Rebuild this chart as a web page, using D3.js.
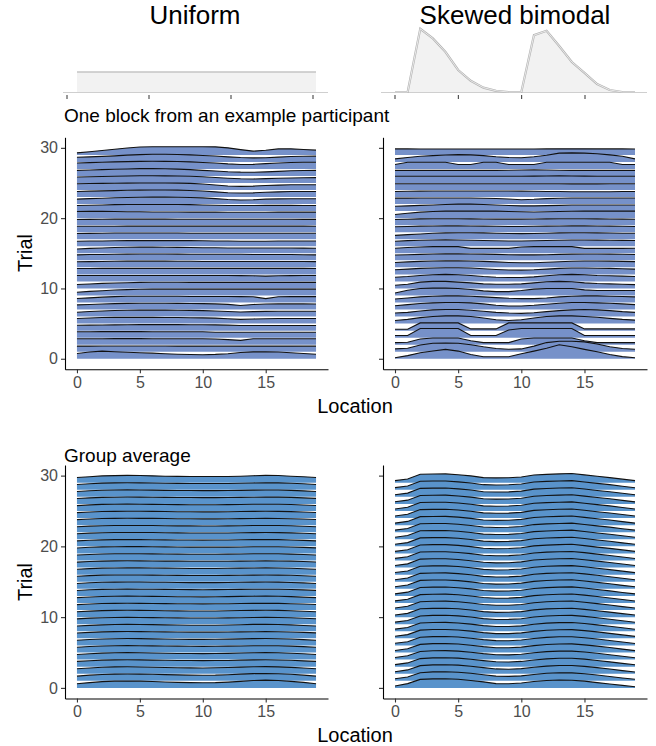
<!DOCTYPE html>
<meta charset="utf-8">
<style>
body,html{margin:0;padding:0;background:#fff;}
svg{display:block;font-family:"Liberation Sans",Arial,sans-serif;}
</style>
<svg width="656" height="746"></svg>
<script src="https://d3js.org/d3.v7.min.js"></script>
<script>

// ---- data ----
var locations = [0,1,2,3,4,5,6,7,8,9,10,11,12,13,14,15,16,17,18,19];
var xTicks = [0,5,10,15];
var yTicks = [0,10,20,30];

// generative distributions (probability per location)
var uniformDist = [0.05,0.05,0.05,0.05,0.05,0.05,0.05,0.05,0.05,0.05,0.05,0.05,0.05,0.05,0.05,0.05,0.05,0.05,0.05,0.05];
var skewedDist = [0,0,0.158,0.134,0.1,0.055,0.028,0.011,0.003,0,0,0.142,0.153,0.115,0.075,0.048,0.02,0.005,0,0];

// ridge heights (x100), one row per trial, trial 0 first
var uniformParticipant = [
  [75,95,108,100,92,86,80,72,65,60,57,62,72,88,98,100,96,86,75,65],
  [80,80,81,82,82,82,82,81,80,80,80,79,79,80,80,80,80,80,79,79],
  [84,84,85,86,86,86,85,85,84,84,84,80,72,62,84,84,84,84,84,84],
  [84,85,86,86,86,86,85,85,84,84,84,78,76,76,76,77,77,77,77,77],
  [76,78,80,82,84,85,86,86,85,84,84,82,78,72,72,74,74,74,74,74],
  [72,80,86,88,88,88,88,87,86,84,82,78,70,60,66,70,72,72,72,72],
  [62,72,80,86,90,92,92,92,90,88,85,80,72,64,70,74,76,76,76,76],
  [66,72,78,84,88,90,90,90,88,86,84,80,74,58,72,78,80,80,80,78],
  [57,66,76,84,88,90,90,90,88,86,86,86,86,84,82,55,82,84,84,84],
  [47,58,68,78,84,88,90,90,90,90,90,90,90,90,90,90,90,90,90,90],
  [57,64,72,78,82,86,88,88,88,86,86,86,86,86,86,86,86,86,86,86],
  [85,85,84,84,84,84,84,84,84,84,84,84,84,82,80,76,80,82,84,84],
  [84,84,85,86,86,86,86,86,86,86,86,86,86,86,86,86,86,86,86,84],
  [80,82,84,86,88,88,88,88,86,86,84,84,84,84,84,84,84,84,84,82],
  [78,82,84,86,88,90,90,89,88,86,86,86,86,86,84,84,84,82,80,78],
  [62,70,76,82,86,88,88,86,84,82,80,78,76,76,76,76,76,76,74,72],
  [71,74,76,78,80,80,80,80,80,80,78,76,74,72,72,72,74,74,74,74],
  [82,84,86,88,88,88,88,88,88,86,86,86,86,86,86,86,86,86,86,86],
  [85,85,85,85,86,86,86,86,86,86,86,86,86,86,86,86,86,86,86,85],
  [80,82,84,86,86,86,86,86,84,84,84,84,84,84,84,84,84,84,82,82],
  [95,96,96,94,92,90,88,88,88,86,86,86,84,84,84,84,86,86,86,86],
  [80,84,88,92,94,95,95,95,94,92,88,84,80,80,80,82,82,82,80,80],
  [71,78,84,90,94,97,99,99,98,94,88,78,66,58,62,70,74,76,76,76],
  [80,84,88,92,96,98,100,100,98,94,86,74,62,57,60,68,74,78,80,80],
  [90,92,94,96,98,100,100,100,98,94,86,72,58,52,56,64,70,74,76,76],
  [85,88,92,96,100,104,104,102,100,96,88,78,68,60,57,62,68,72,74,76],
  [80,85,90,96,100,104,104,102,98,90,80,70,60,54,52,58,66,74,78,80],
  [85,90,96,100,104,108,109,108,106,100,92,85,72,63,65,75,85,92,95,95],
  [66,72,78,86,96,104,109,109,106,100,92,84,72,62,57,60,68,76,80,82],
  [29,45,62,80,98,112,116,116,115,115,115,114,100,75,53,65,85,86,76,67]
];

var skewedParticipant = [
  [14,45,85,110,133,109,60,28,28,28,70,109,150,200,170,133,100,60,30,14],
  [40,50,95,120,125,120,100,70,45,35,40,80,130,150,150,140,110,70,45,35],
  [30,35,80,95,95,95,55,30,30,30,80,95,95,95,95,55,30,30,30,30],
  [30,30,130,130,130,130,30,30,30,110,130,130,130,130,130,30,30,30,30,30],
  [20,20,110,110,110,110,25,25,25,110,110,110,110,110,110,25,25,25,25,25],
  [45,60,85,100,110,110,100,80,55,45,55,80,100,110,110,100,90,75,60,50],
  [50,60,80,95,100,100,90,75,60,50,45,55,70,85,95,100,95,85,70,60],
  [55,70,85,95,100,100,95,80,60,50,50,60,75,90,100,100,95,90,80,70],
  [50,65,80,90,95,95,90,80,70,60,55,55,65,80,90,95,95,90,85,80],
  [35,75,100,105,105,100,85,65,55,55,70,90,100,100,100,80,70,70,70,70],
  [45,60,90,100,100,90,80,65,60,60,65,80,95,100,95,80,70,65,60,55],
  [60,70,85,95,100,95,85,70,60,55,55,65,80,95,100,95,85,80,75,70],
  [65,75,85,90,95,95,90,80,70,62,60,65,75,85,90,90,88,85,80,75],
  [70,78,85,90,92,92,90,85,78,70,65,65,72,80,86,90,90,88,85,82],
  [75,80,85,90,92,92,90,88,85,80,78,78,80,85,88,90,90,88,86,84],
  [72,82,90,95,95,95,70,70,70,70,90,95,95,95,95,70,70,70,70,72],
  [72,80,86,90,92,90,86,82,78,75,75,78,82,86,90,90,88,86,84,82],
  [55,65,75,85,90,92,92,90,86,82,80,82,86,90,92,92,90,88,86,85],
  [78,82,86,88,90,90,88,86,84,82,82,84,86,88,90,90,88,86,84,82],
  [80,85,90,92,92,92,90,88,86,86,86,88,90,92,92,92,90,88,86,85],
  [52,70,85,95,100,100,100,100,100,95,90,88,90,95,98,100,100,100,100,100],
  [70,75,82,88,95,100,100,95,88,80,75,75,78,82,86,88,88,88,86,86],
  [85,85,86,86,86,86,86,84,80,72,62,68,78,84,86,86,86,86,86,86],
  [80,82,84,86,86,86,86,86,86,86,84,82,80,78,76,76,76,76,78,80],
  [90,90,90,90,90,90,90,90,90,90,90,90,90,90,88,88,88,90,90,90],
  [95,95,95,95,95,95,95,95,95,95,95,98,100,102,100,98,96,95,95,95],
  [80,80,80,80,80,80,80,80,80,82,84,86,84,82,80,80,80,80,80,80],
  [63,96,96,96,96,63,63,96,96,63,63,63,96,96,96,96,96,96,63,63],
  [43,62,80,90,98,104,100,90,74,62,60,74,95,125,128,125,115,100,80,43],
  [85,85,84,84,84,84,83,83,83,83,84,84,85,86,86,86,85,85,85,84]
];

var uniformGroup = [
  [59,75,88,95,97,95,90,84,78,75,73,75,82,92,104,110,104,92,78,59],
  [66,80,90,95,96,95,92,88,84,80,78,80,86,94,102,104,100,92,80,66],
  [70,82,92,97,98,96,92,88,85,83,82,84,88,94,99,100,97,90,80,70],
  [74,84,92,96,97,96,93,90,88,86,85,86,88,92,96,97,95,90,82,74],
  [72,83,91,96,98,97,94,90,87,85,84,85,88,92,96,98,96,90,82,72],
  [75,85,92,96,97,96,94,92,90,88,87,88,90,92,95,96,95,90,83,75],
  [73,84,91,95,97,96,93,90,88,86,86,87,89,93,96,97,95,90,82,74],
  [76,85,92,95,96,95,93,91,89,88,88,88,90,92,94,95,94,90,84,77],
  [74,84,91,95,97,96,94,91,88,86,85,86,89,93,97,98,96,90,82,74],
  [76,86,92,95,96,95,93,91,89,88,87,88,90,92,95,96,95,91,84,77],
  [75,85,92,96,97,96,94,91,88,86,86,87,90,93,96,97,95,90,83,75],
  [77,86,92,95,96,95,93,91,90,89,88,89,90,92,94,95,94,90,85,78],
  [75,85,92,96,97,96,94,91,89,87,86,87,90,93,96,97,95,90,83,75],
  [77,86,92,95,96,95,94,92,90,89,88,89,90,92,94,95,94,91,85,78],
  [76,85,92,95,97,96,94,92,89,87,87,88,90,93,95,96,95,90,84,76],
  [78,87,93,95,96,95,94,92,90,89,89,89,90,92,94,95,94,91,85,78],
  [76,86,92,95,96,96,94,92,90,88,87,88,90,93,95,96,95,91,84,77],
  [78,87,92,95,96,95,94,92,91,90,89,89,90,92,94,95,94,91,86,79],
  [77,86,92,95,96,95,94,92,90,89,88,88,90,92,95,96,95,91,85,78],
  [78,87,93,95,96,96,94,93,91,90,89,89,90,92,94,95,94,91,86,79],
  [77,86,92,95,96,95,94,92,90,89,88,89,90,93,95,96,95,91,85,78],
  [78,87,92,95,96,96,95,93,91,90,89,89,90,92,94,95,94,91,86,79],
  [77,86,92,95,96,96,94,92,90,89,88,88,90,92,95,96,95,91,85,78],
  [78,87,93,96,97,96,95,93,91,90,89,89,90,92,94,95,94,91,86,79],
  [77,86,92,95,96,96,95,92,90,89,88,88,90,92,94,96,95,91,85,78],
  [76,86,93,96,97,96,94,92,90,88,88,88,90,92,95,96,96,92,85,77],
  [77,86,92,95,97,96,95,93,91,90,89,89,90,92,94,96,96,92,86,78],
  [76,86,93,97,98,97,95,92,90,89,88,88,89,92,95,97,97,92,85,76],
  [75,86,94,98,99,98,96,93,90,89,88,88,89,92,96,99,98,92,84,75],
  [74,85,96,100,103,101,97,92,89,88,87,87,88,92,98,104,101,92,83,74]
];

var skewedGroup = [
  [26,60,120,128,130,122,105,85,60,58,68,90,105,111,108,95,75,55,35,17],
  [28,55,115,126,128,122,106,86,66,62,70,90,106,113,112,100,82,62,40,22],
  [29,54,114,125,127,121,105,86,68,64,72,92,108,116,116,104,86,66,44,25],
  [29,53,114,124,126,120,104,85,69,66,74,94,110,118,118,106,88,68,46,26],
  [30,53,115,124,126,120,104,84,69,67,75,96,112,120,120,107,89,69,47,27],
  [29,53,115,125,126,120,103,83,68,67,76,97,113,121,122,108,90,70,48,27],
  [30,53,116,124,126,119,102,82,68,67,76,98,114,122,123,109,90,70,48,28],
  [29,53,116,125,126,119,102,81,67,67,77,99,115,122,124,109,91,71,49,28],
  [30,53,117,124,126,118,101,80,67,67,77,100,115,123,125,110,91,71,49,28],
  [29,53,117,125,126,118,101,79,67,68,78,101,116,123,125,110,91,71,49,28],
  [30,53,118,124,126,118,100,78,67,68,78,102,116,123,126,110,91,71,49,29],
  [29,53,118,124,126,117,100,78,67,68,79,103,117,124,127,111,91,71,49,29],
  [30,53,118,124,125,117,99,77,67,68,79,104,117,124,127,111,91,71,49,29],
  [29,53,119,124,125,116,99,77,67,69,80,105,117,124,127,111,91,71,49,29],
  [30,53,119,124,125,116,98,76,67,69,80,105,118,124,128,111,91,71,49,29],
  [29,53,119,124,125,115,98,76,67,69,80,106,118,124,128,111,91,71,50,29],
  [30,53,119,124,125,115,98,75,67,69,80,106,118,124,128,111,91,71,50,29],
  [29,53,120,124,125,115,97,75,67,69,81,107,118,124,128,111,91,72,50,29],
  [30,53,120,124,125,114,97,74,67,69,81,107,118,124,128,111,90,72,50,29],
  [29,53,120,124,125,114,97,74,67,70,81,107,118,124,129,111,90,72,50,29],
  [30,53,120,123,124,114,97,74,67,70,81,108,118,124,129,111,90,72,50,29],
  [29,53,120,123,124,113,96,73,67,70,81,108,118,124,129,110,90,72,50,29],
  [30,53,120,123,124,113,96,73,67,70,81,108,118,124,129,110,90,72,50,29],
  [29,53,120,123,124,113,96,73,68,70,81,108,118,124,129,110,90,72,50,29],
  [30,53,120,123,124,113,96,73,68,70,81,109,118,124,129,110,90,72,50,29],
  [29,53,120,123,124,112,96,72,68,70,81,109,118,124,129,110,90,72,50,29],
  [30,53,120,123,124,112,96,72,68,70,81,109,118,124,129,110,90,72,50,29],
  [29,53,120,123,124,112,96,72,68,70,81,109,118,124,129,110,90,72,50,29],
  [30,53,120,123,124,112,96,72,68,70,81,109,118,124,129,110,90,72,50,29],
  [29,53,120,123,124,112,96,72,68,70,81,109,118,124,129,110,90,72,50,29]
];

// ---- drawing ----
var svg = d3.select("svg");
var ridgeScale = 0.01;

// small distribution plots on top
function distPlot(values, xRange, tickRange, title, titleX, doubleLine) {
  var x = d3.scaleLinear().domain([0, 19]).range(xRange);
  var xt = d3.scaleLinear().domain([0, 15]).range(tickRange);
  var y = d3.scaleLinear().domain([0, 0.16]).range([92, 28]);
  var g = svg.append("g");
  var pts = locations.map(function(l, i) { return [l, values[i]]; });
  var line = d3.line().x(d => x(d[0])).y(d => y(d[1]));
  g.append("path")
      .datum(pts)
      .attr("fill", "#f2f2f2")
      .attr("d", d3.area().x(d => x(d[0])).y0(y(0)).y1(d => y(d[1])));
  g.append("line")
      .attr("x1", xRange[0] - 14).attr("x2", xRange[1] + 12)
      .attr("y1", 92.5).attr("y2", 92.5)
      .attr("stroke", "#cfcfcf").attr("stroke-width", 1);
  g.append("path")
      .datum(pts)
      .attr("fill", "none")
      .attr("stroke", doubleLine ? "#b4b4b4" : "#c4c4c4")
      .attr("stroke-width", doubleLine ? 2.2 : 1.6)
      .attr("d", line);
  if (doubleLine) {
    g.append("path")
        .datum(pts)
        .attr("fill", "none")
        .attr("stroke", "#f6f6f6")
        .attr("stroke-width", 0.8)
        .attr("d", line);
  }
  g.selectAll(".tk").data(xTicks).enter().append("line")
      .attr("x1", d => xt(d)).attr("x2", d => xt(d))
      .attr("y1", 95).attr("y2", 99)
      .attr("stroke", "#333").attr("stroke-width", 1);
  svg.append("text")
      .attr("x", titleX).attr("y", 24)
      .attr("text-anchor", "middle")
      .attr("font-size", 26)
      .attr("fill", "#000")
      .text(title);
}

distPlot(uniformDist, [77, 316], [67, 313], "Uniform", 195, false);
distPlot(skewedDist, [395, 635], [395, 585], "Skewed bimodal", 515, true);

function ridgePanel(rows, x0, x1, y0, y1, fill, showLabels) {
  var x = d3.scaleLinear().domain([-0.95, 19.95]).range([x0, x1]);
  var y = d3.scaleLinear().domain([-1.5, 31.5]).range([y1, y0]);
  var g = svg.append("g");

  // draw top trial first so lower ridges overlap it
  for (var t = rows.length - 1; t >= 0; t--) {
    var pts = locations.map(function(l, i) { return [l, t, rows[t][i] * ridgeScale]; });
    g.append("path")
        .datum(pts)
        .attr("fill", fill)
        .attr("d", d3.area().x(d => x(d[0])).y0(d => y(d[1])).y1(d => y(d[1] + d[2])));
    g.append("path")
        .datum(pts)
        .attr("fill", "none")
        .attr("stroke", "#111")
        .attr("stroke-width", 1.1)
        .attr("d", d3.line().x(d => x(d[0])).y(d => y(d[1] + d[2])));
  }

  var ax = g.append("g")
      .attr("transform", "translate(0," + y1 + ")")
      .call(d3.axisBottom(x).tickValues(xTicks).tickSize(4).tickSizeOuter(0).tickPadding(3));
  var ay = g.append("g")
      .attr("transform", "translate(" + x0 + ",0)")
      .call(d3.axisLeft(y).tickValues(yTicks).tickSize(4).tickSizeOuter(0).tickPadding(3));
  [ax, ay].forEach(function(a) {
    a.select(".domain").attr("stroke", "#000").attr("stroke-width", 1.1);
    a.selectAll(".tick line").attr("stroke", "#333").attr("stroke-width", 1.1);
    a.selectAll(".tick text")
        .attr("fill", "#4d4d4d")
        .attr("font-size", 16)
        .attr("font-family", '"Liberation Sans", Arial, sans-serif');
  });
  if (!showLabels) ay.selectAll(".tick text").remove();
}

var fillTop = "#7691c9", fillBottom = "#5993cb";
ridgePanel(uniformParticipant, 65, 328, 137.3, 369.3, fillTop, true);
ridgePanel(skewedParticipant, 383, 647, 137.3, 369.3, fillTop, false);
ridgePanel(uniformGroup, 65, 328, 465, 698.5, fillBottom, true);
ridgePanel(skewedGroup, 383, 647, 465, 698.5, fillBottom, false);

// titles and axis labels
function label(txt, x, y, size, anchor, rotate) {
  var t = svg.append("text")
      .attr("x", x).attr("y", y)
      .attr("font-size", size)
      .attr("text-anchor", anchor)
      .attr("fill", "#000")
      .text(txt);
  if (rotate) t.attr("transform", "rotate(-90," + x + "," + y + ")");
}
label("One block from an example participant", 64, 122, 19, "start");
label("Group average", 64, 462, 19, "start");
label("Location", 355, 413, 20, "middle");
label("Location", 355, 742, 20, "middle");
label("Trial", 32, 253, 20, "middle", true);
label("Trial", 32, 582, 20, "middle", true);

</script>
